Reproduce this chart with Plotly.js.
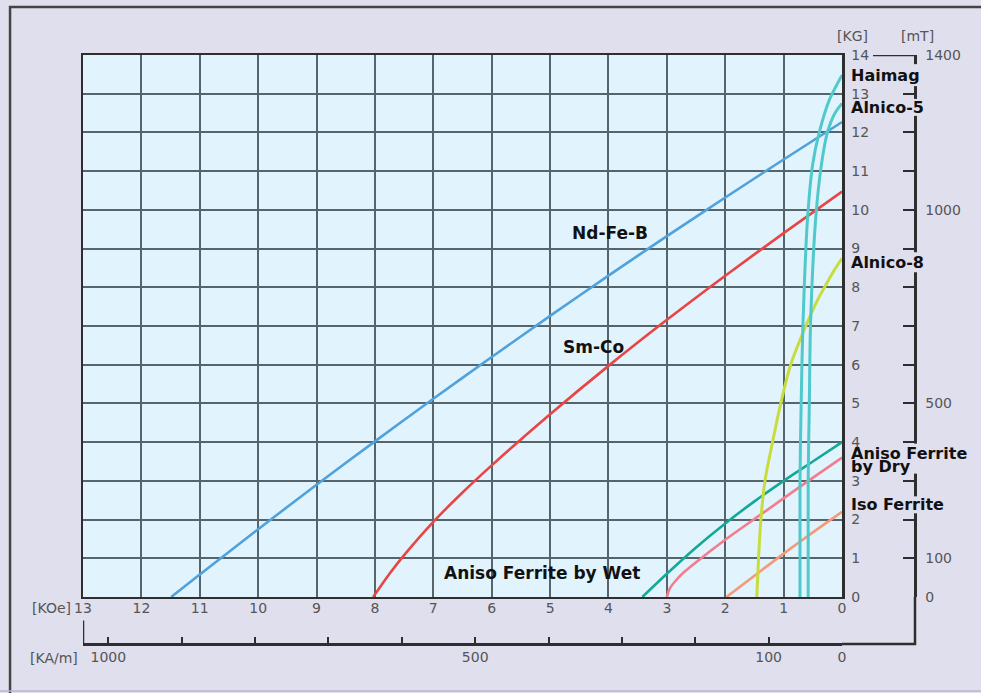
<!DOCTYPE html>
<html>
<head>
<meta charset="utf-8">
<script src="https://cdn.plot.ly/plotly-3.0.1.min.js"></script>
<style>html,body{margin:0;padding:0;background:#e0dfee;}#chart{width:981px;height:693px;}</style>
</head>
<body>
<div id="chart"></div>
<script>
// ---- Data: demagnetization curves, H in KOe (reversed axis), B in KG ----
const ndfebH = [11.49, 11, 10, 9, 8, 7, 6, 5, 4, 3, 2, 1, 0];
const ndfebB = [0, 0.58, 1.75, 2.9, 4.02, 5.12, 6.2, 7.26, 8.3, 9.32, 10.32, 11.3, 12.27];

const smcoH = [8.03, 7.75, 7.5, 7, 6.5, 6, 5, 4, 3, 2, 1, 0];
const smcoB = [0, 0.6, 1.08, 1.94, 2.7, 3.4, 4.72, 5.97, 7.16, 8.3, 9.4, 10.47];

const haimagH = [0.72, 0.72, 0.7, 0.67, 0.59, 0.5, 0.39, 0.22, 0.1, 0];
const haimagB = [0, 3, 5, 7, 9.8, 11.2, 12.0, 12.83, 13.2, 13.48];

const alnico5H = [0.58, 0.58, 0.56, 0.54, 0.45, 0.35, 0.25, 0.12, 0];
const alnico5B = [0, 3, 5, 7, 9.8, 11.2, 12.0, 12.5, 12.75];

const alnico8H = [1.46, 1.43, 1.39, 1.32, 1.19, 1.05, 0.88, 0.62, 0.42, 0.3, 0.15, 0];
const alnico8B = [0, 1, 2, 3, 4, 5, 6, 7, 7.67, 8.0, 8.4, 8.75];

const wetH = [3.42, 3, 2.5, 2, 1.5, 1, 0.5, 0];
const wetB = [0, 0.6, 1.28, 1.9, 2.47, 3.0, 3.5, 4.0];

const dryH = [3.0, 2.95, 2.85, 2.7, 2.5, 2, 1.4, 0.7, 0];
const dryB = [0, 0.22, 0.42, 0.65, 0.9, 1.48, 2.12, 2.87, 3.6];

const isoH = [1.98, 1.5, 1, 0.5, 0];
const isoB = [0, 0.55, 1.12, 1.67, 2.2];

// ---- Axis tick labels ----
const koeTicks = [13, 12, 11, 10, 9, 8, 7, 6, 5, 4, 3, 2, 1, 0];
const kgTicks = [0, 1, 2, 3, 4, 5, 6, 7, 8, 9, 10, 11, 12, 13, 14];
const kamTickVals = [0, 100, 200, 300, 400, 500, 600, 700, 800, 900, 1000];
const kamTickText = ['0', '100', '', '', '', '500', '', '', '', '', '1000'];
const mtTickVals = [0, 100, 200, 300, 400, 500, 600, 700, 800, 900, 1000, 1100, 1200, 1300, 1400];
const mtTickText = ['0', '100', '', '', '', '500', '', '', '', '', '1000', '', '', '', '1400'];

// unit conversions
const KOE_TO_KAM = 1000 / (4 * Math.PI);
const KG_TO_MT = 100;
const H_MAX = 13, B_MAX = 14;

// ---- Styling ----
const W = 981, Hpx = 693;
const margin = {l: 83, r: 66, t: 55, b: 49, pad: 0};
const fx = 0.9123, fy0 = 0.0798;
const pxPerKG = (Hpx - margin.t - margin.b) * (1 - fy0) / B_MAX;
const pxPaperX = W - margin.l - margin.r;
const tickFont = {family: 'DejaVu Sans', size: 14, color: '#555'};
const labFont = {family: 'DejaVu Sans', size: 17, color: '#111', weight: 'bold'};
const endFont = {family: 'DejaVu Sans', size: 16, color: '#111', weight: 'bold'};
const BG = '#e0dfee';

function curve(h, b, color, w) {
  return {x: h, y: b, type: 'scatter', mode: 'lines', xaxis: 'x', yaxis: 'y',
          line: {color: color, width: w || 2.6, shape: 'spline', smoothing: 0.8},
          hoverinfo: 'skip', showlegend: false};
}

const traces = [
  curve(ndfebH, ndfebB, '#4fa2dc'),
  curve(smcoH, smcoB, '#ea4444'),
  curve(wetH, wetB, '#14a898'),
  curve(dryH, dryB, '#f27d8f'),
  curve(isoH, isoB, '#f59a78'),
  curve(alnico8H, alnico8B, '#c8dd3d', 3),
  curve(haimagH, haimagB, '#4fc9cb', 3),
  curve(alnico5H, alnico5B, '#4fc9cb', 3),
  // empty trace so that the KA/m axis is drawn
  {x: [], y: [], type: 'scatter', mode: 'lines', xaxis: 'x2', yaxis: 'y', showlegend: false, hoverinfo: 'skip'}
];

function last(a) { return a[a.length - 1]; }

// right-hand curve labels: [text, curve end value, vertical shift px, gap half-height px]
const endLabels = [
  ['Haimag', last(haimagB), 0, 11],
  ['Alnico-5', last(alnico5B), -4, 8.5],
  ['Alnico-8', last(alnico8B), -4, 10],
  ['Aniso Ferrite', last(dryB), 4, 10],
  ['by Dry', last(dryB), -9, 7],
  ['Iso Ferrite', last(isoB), 7, 8.5]
];

const annotations = [
  {text: 'Nd-Fe-B', x: 3.98, y: 9.39, xref: 'x', yref: 'y', showarrow: false, font: labFont},
  {text: 'Sm-Co', x: 4.26, y: 6.45, xref: 'x', yref: 'y', showarrow: false, font: labFont},
  {text: 'Aniso Ferrite by Wet', x: 5.14, y: 0.62, xref: 'x', yref: 'y', showarrow: false, font: labFont},
  {text: '[KG]', xref: 'paper', yref: 'paper', x: 0.946, y: 1.032, yanchor: 'middle', showarrow: false, font: tickFont},
  {text: '[mT]', xref: 'paper', yref: 'paper', x: 1.025, y: 1.032, yanchor: 'middle', showarrow: false, font: tickFont},
  {text: '[KOe]', xref: 'paper', yref: 'paper', x: -0.012, y: 0.061, xanchor: 'right', yanchor: 'middle', showarrow: false, font: tickFont},
  {text: '[KA/m]', xref: 'paper', yref: 'paper', x: -0.004, y: -0.024, xanchor: 'right', yanchor: 'middle', showarrow: false, font: tickFont}
];

const lineCol = '#2e2e2e';
const shapes = [
  // extension of the KA/m and mT axes to their corner
  {type: 'path', xref: 'paper', yref: 'paper', path: `M ${fx},0 L 1,0 L 1,${fy0}`,
   line: {color: lineCol, width: 2.5}},
  // long top tick of the mT axis
  {type: 'line', xref: 'paper', yref: 'y2', x0: 0.9495, x1: 1, y0: B_MAX * KG_TO_MT, y1: B_MAX * KG_TO_MT,
   line: {color: lineCol, width: 2.5}},
  // left cap of the KA/m axis
  {type: 'line', xref: 'x', yref: 'paper', x0: H_MAX, x1: H_MAX, y0: 0, y1: 0.04,
   line: {color: lineCol, width: 2.5}},
  // outer frame
  {type: 'path', xref: 'paper', yref: 'paper', path: 'M -0.0877,-0.2 L -0.0877,1.0815 L 1.2,1.0815',
   line: {color: '#444', width: 2.5}},
  {type: 'line', xref: 'paper', yref: 'paper', x0: -0.2, x1: 1.2, y0: -0.0798, y1: -0.0798,
   line: {color: '#b8b6c8', width: 1.5}}
];

endLabels.forEach(([text, yv, ys, gap]) => {
  annotations.push({text: text, x: 0, y: yv, xref: 'x', yref: 'y', xanchor: 'left', yanchor: 'middle',
                    xshift: 7, yshift: ys, showarrow: false, font: endFont});
  const yc = yv + ys / pxPerKG;
  // break in the mT axis line behind the label
  shapes.push({type: 'rect', layer: 'above', xref: 'paper', yref: 'y',
               x0: 1 - 4 / pxPaperX, x1: 1 + 4 / pxPaperX,
               y0: yc - gap / pxPerKG, y1: yc + gap / pxPerKG,
               fillcolor: BG, line: {width: 0}});
});

const layout = {
  width: W, height: Hpx,
  margin: margin,
  paper_bgcolor: BG, plot_bgcolor: '#e1f3fc',
  showlegend: false,
  xaxis: {domain: [0, fx], range: [H_MAX, 0], tickvals: koeTicks, ticktext: koeTicks.map(String),
          showgrid: true, gridcolor: '#56646b', gridwidth: 2, zeroline: false,
          showline: true, mirror: true, linecolor: lineCol, linewidth: 2.5,
          ticks: '', tickfont: tickFont, ticklabelstandoff: -3, anchor: 'y', fixedrange: true},
  yaxis: {domain: [fy0, 1], range: [0, B_MAX], tickvals: kgTicks, ticktext: kgTicks.map(String),
          side: 'right', showgrid: true, gridcolor: '#56646b', gridwidth: 2, zeroline: false,
          showline: true, mirror: true, linecolor: lineCol, linewidth: 2.5,
          ticks: '', tickfont: tickFont, ticklabelstandoff: 4, anchor: 'x', fixedrange: true},
  xaxis2: {overlaying: 'x', anchor: 'free', position: 0, side: 'bottom',
           range: [H_MAX * KOE_TO_KAM, 0], tickvals: kamTickVals, ticktext: kamTickText,
           showgrid: false, zeroline: false, showline: true, linecolor: lineCol, linewidth: 2.5,
           ticks: 'inside', ticklen: 6, tickwidth: 2, tickcolor: lineCol, tickfont: tickFont, fixedrange: true},
  yaxis2: {overlaying: 'y', anchor: 'free', position: 1, side: 'right',
           range: [0, B_MAX * KG_TO_MT], tickvals: mtTickVals, ticktext: mtTickText,
           showgrid: false, zeroline: false, showline: true, linecolor: lineCol, linewidth: 2.5,
           ticks: 'inside', ticklen: 11, tickwidth: 2, tickcolor: lineCol, tickfont: tickFont,
           ticklabelstandoff: 6, fixedrange: true},
  annotations: annotations,
  shapes: shapes
};

Plotly.newPlot('chart', traces, layout, {staticPlot: true, displayModeBar: false});
</script>
</body>
</html>
